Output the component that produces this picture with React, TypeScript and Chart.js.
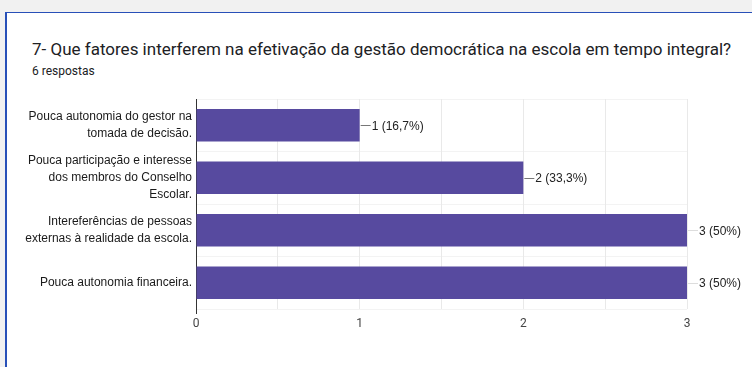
import React, { useEffect, useRef } from "react";
import { Chart, registerables } from "chart.js";

Chart.register(...registerables);

const TITLE = "7- Que fatores interferem na efetivação da gestão democrática na escola em tempo integral?";
const SUBTITLE = "6 respostas";
const categories: string[][] = [
  ["Pouca autonomia do gestor na", "tomada de decisão."],
  ["Pouca participação e interesse", "dos membros do Conselho", "Escolar."],
  ["Intereferências de pessoas", "externas à realidade da escola."],
  ["Pouca autonomia financeira."],
];
const values: number[] = [1, 2, 3, 3];
const totalResponses = 6;
const xTicks: number[] = [0, 1, 2, 3];

const BAR_COLOR = "#574a9f";

function fmtLabel(v: number): string {
  const pct = Number(((v / totalResponses) * 100).toFixed(1));
  return `${v} (${String(pct).replace(".", ",")}%)`;
}

const dataLabelPlugin = {
  id: "dataLabels",
  afterDatasetsDraw(chart: any) {
    const ctx = chart.ctx;
    const meta = chart.getDatasetMeta(0);
    const max = chart.scales.x.max;
    ctx.save();
    ctx.font = "12px 'Liberation Sans', Arial, sans-serif";
    ctx.textBaseline = "middle";
    ctx.textAlign = "left";
    meta.data.forEach((bar: any, i: number) => {
      const v = values[i];
      const x = bar.x;
      const y = bar.y;
      ctx.strokeStyle = v >= max ? "#dddddd" : "#777777";
      ctx.lineWidth = 1;
      ctx.beginPath();
      ctx.moveTo(x + 1, Math.round(y) + 0.5);
      ctx.lineTo(x + 11, Math.round(y) + 0.5);
      ctx.stroke();
      ctx.fillStyle = "#222222";
      ctx.fillText(fmtLabel(v), x + 12, y + 1);
    });
    ctx.restore();
  },
};

export default function App() {
  const canvasRef = useRef<HTMLCanvasElement | null>(null);

  useEffect(() => {
    if (!canvasRef.current) return;
    const chart = new Chart(canvasRef.current, {
      type: "bar",
      data: {
        labels: categories,
        datasets: [
          {
            data: values,
            backgroundColor: BAR_COLOR,
            borderWidth: 0,
            categoryPercentage: 1,
            barPercentage: 0.62,
          },
        ],
      },
      options: {
        indexAxis: "y",
        responsive: false,
        animation: false,
        devicePixelRatio: 1,
        layout: { padding: { top: 99, right: 65, bottom: 0, left: 0 } },
        plugins: {
          legend: { display: false },
          tooltip: { enabled: false },
          title: { display: false },
        },
        scales: {
          y: {
            afterFit(scale: any) {
              scale.width = 196;
            },
            ticks: {
              autoSkip: false,
              font: { family: "'Liberation Sans', Arial, sans-serif", size: 12, lineHeight: 1.4 },
              color: "#1a1a1a",
              padding: 4,
            },
            grid: { color: "#f3f3f3", drawTicks: false },
            border: { color: "#333333", width: 1 },
          },
          x: {
            min: 0,
            max: xTicks[xTicks.length - 1],
            afterFit(scale: any) {
              scale.height = 58;
            },
            ticks: {
              stepSize: 0.5,
              autoSkip: false,
              callback: (v: any) => (xTicks.includes(Number(v)) ? String(v) : ""),
              font: { family: "Roboto, 'Liberation Sans', sans-serif", size: 12 },
              color: "#444444",
              padding: 3,
              maxRotation: 0,
            },
            grid: {
              color: (c: any) => (c.tick && c.tick.value === 0 ? "#333333" : "#e9e9e9"),
              tickColor: (c: any) => (c.tick && c.tick.value === 0 ? "#333333" : "rgba(0,0,0,0)"),
              tickLength: 5,
            },
            border: { display: false },
          },
        },
      },
      plugins: [dataLabelPlugin],
    });
    return () => chart.destroy();
  }, []);

  return (
    <div
      style={{
        position: "fixed",
        left: 0,
        top: 0,
        width: 752,
        height: 367,
        background: "#f1f1f1",
        overflow: "hidden",
      }}
    >
      <div
        style={{
          position: "absolute",
          left: 5,
          top: 12,
          width: 800,
          height: 420,
          background: "#ffffff",
          borderTop: "1px solid #2850b8",
          borderLeft: "2px solid #2850b8",
          boxSizing: "border-box",
        }}
      />
      <div
        style={{
          position: "absolute",
          left: 32,
          top: 38,
          fontFamily: "Roboto, sans-serif",
          fontSize: 17,
          color: "#202124",
          whiteSpace: "nowrap",
          lineHeight: "22px",
        }}
      >
        {TITLE}
      </div>
      <div
        style={{
          position: "absolute",
          left: 32,
          top: 63,
          fontFamily: "Roboto, sans-serif",
          fontSize: 12,
          color: "#202124",
          whiteSpace: "nowrap",
          lineHeight: "16px",
        }}
      >
        {SUBTITLE}
      </div>
      <canvas
        ref={canvasRef}
        width={752}
        height={367}
        style={{ position: "absolute", left: 0, top: 0, width: 752, height: 367 }}
      />
    </div>
  );
}
